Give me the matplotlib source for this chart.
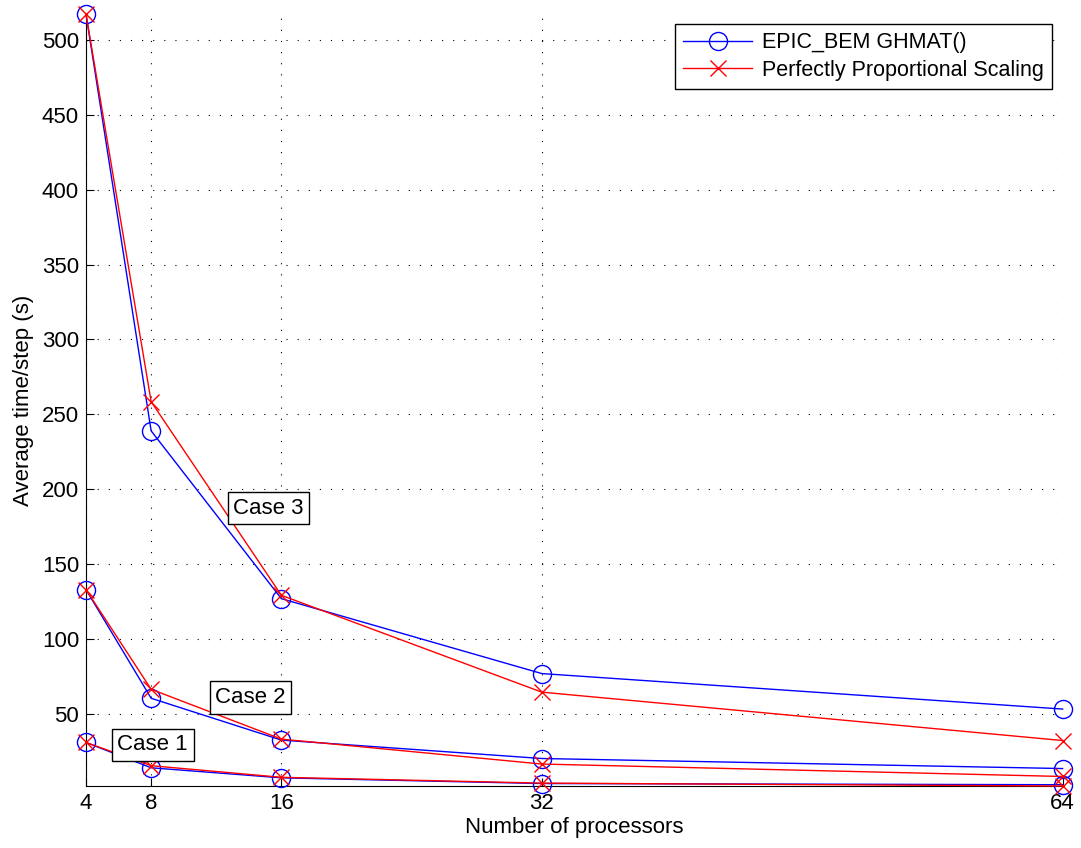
import matplotlib
matplotlib.use("Agg")
import matplotlib.pyplot as plt

plt.rcParams['font.family'] = ['Liberation Sans', 'DejaVu Sans']

procs = [4, 8, 16, 32, 64]
case1_epic = [31, 14.1, 7.4, 3.6, 2.8]
case1_ideal = [31, 15.5, 7.75, 3.875, 1.94]
case2_epic = [133, 60.5, 32.6, 20.3, 13.6]
case2_ideal = [133, 66.5, 33.25, 16.6, 8.3]
case3_epic = [517, 239, 127, 77, 53.3]
case3_ideal = [517, 258.5, 129.25, 64.6, 32.3]

case_labels = ["Case 1", "Case 2", "Case 3"]
label_pos = [(8.1, 29.5), (14.1, 61), (15.2, 187.5)]

yticks = [50, 100, 150, 200, 250, 300, 350, 400, 450, 500]

FS = 16

fig = plt.figure(figsize=(10.81, 8.48), dpi=100)
ax = fig.add_axes([0.0796, 0.0731, 0.9034, 0.9099])

epic_kw = dict(color='blue', lw=1.0, marker='o', markersize=13, markerfacecolor='none',
               markeredgecolor='blue', markeredgewidth=1.0, clip_on=False)
ideal_kw = dict(color='red', lw=1.0, marker='x', markersize=11, markeredgewidth=1.0,
                clip_on=False)

l1 = None
for e, i in [(case1_epic, case1_ideal), (case2_epic, case2_ideal), (case3_epic, case3_ideal)]:
    a, = ax.plot(procs, e, **epic_kw, zorder=3)
    b, = ax.plot(procs, i, **ideal_kw, zorder=4)
    if l1 is None:
        l1, l2 = a, b

for txt, (x, y) in zip(case_labels, label_pos):
    ax.text(x, y, txt, fontsize=FS, ha='center', va='center', zorder=5,
            bbox=dict(boxstyle='square,pad=0.25', facecolor='white', edgecolor='black', lw=1.0))

ax.set_xlim(4, 64)
ax.set_ylim(1.94, 517)
ax.set_xticks(procs)
ax.set_xticklabels([str(p) for p in procs])
ax.set_yticks(yticks)
ax.tick_params(direction='in', length=6, width=0.8, labelsize=FS, pad=5)
ax.grid(True, linestyle=(0, (1, 9)), color='black', lw=0.8)
ax.spines['top'].set_visible(False)
ax.spines['right'].set_visible(False)

ax.set_xlabel("Number of processors", fontsize=FS, labelpad=2)
ax.set_ylabel("Average time/step (s)", fontsize=FS, labelpad=6)

leg = ax.legend([l1, l2], ["EPIC_BEM GHMAT()", "Perfectly Proportional Scaling"],
                loc='upper right', bbox_to_anchor=(0.9895, 0.988), fontsize=15.5,
                fancybox=False, framealpha=1, edgecolor='black', handlelength=3.2,
                handletextpad=0.45, borderpad=0.4, labelspacing=0.3, borderaxespad=0)
leg.get_frame().set_linewidth(1.0)

fig.savefig("out.png", dpi=100)
